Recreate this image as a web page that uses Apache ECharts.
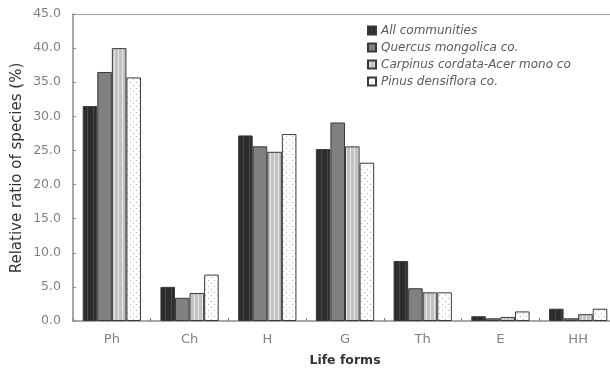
<!DOCTYPE html>
<html>
<head>
<meta charset="utf-8">
<script src="https://cdn.jsdelivr.net/npm/echarts@6/dist/echarts.min.js"></script>
<style>
  html, body { margin: 0; padding: 0; background: #fff; overflow: hidden; }
  #chart { width: 617px; height: 374px; }
</style>
</head>
<body>
<div id="chart"></div>
<script>
// Life-form spectrum of the forest communities (% of species)
const lifeForms = ['Ph', 'Ch', 'H', 'G', 'Th', 'E', 'HH'];
const seriesNames = [
  'All communities',
  'Quercus mongolica co.',
  'Carpinus cordata-Acer mono co',
  'Pinus densiflora co.'
];
const allCommunities = [31.5, 5.0, 27.2, 25.2, 8.8, 0.7, 1.8];
const quercusMongolica = [36.5, 3.4, 25.6, 29.1, 4.8, 0.4, 0.4];
const carpinusAcer = [40.0, 4.1, 24.8, 25.6, 4.2, 0.6, 1.0];
const pinusDensiflora = [35.7, 6.8, 27.4, 23.2, 4.2, 1.4, 1.8];
const yTicks = ['0.0', '5.0', '10.0', '15.0', '20.0', '25.0', '30.0', '35.0', '40.0', '45.0'];

const FONT = 'DejaVu Sans, Verdana, sans-serif';

// small repeating fill textures
function texture(w, h, bg, paint) {
  const c = document.createElement('canvas');
  c.width = w; c.height = h;
  const g = c.getContext('2d');
  g.fillStyle = bg;
  g.fillRect(0, 0, w, h);
  paint(g);
  return { image: c, repeat: 'repeat' };
}
const fills = [
  texture(6, 6, '#2c2c2c', g => { g.fillStyle = '#4a4a4a'; g.fillRect(3, 0, 1, 6); }),
  '#808080',
  texture(4, 4, '#c2c2c2', g => { g.fillStyle = '#e6e6e6'; g.fillRect(2, 0, 1, 4); }),
  texture(6, 6, '#ffffff', g => { g.fillStyle = '#b4b4b4'; g.fillRect(1, 1, 1, 1); g.fillRect(4, 4, 1, 1); })
];
const values = [allCommunities, quercusMongolica, carpinusAcer, pinusDensiflora];

const chart = echarts.init(document.getElementById('chart'), null, { renderer: 'canvas' });

const series = values.map((data, i) => ({
  name: seriesNames[i],
  type: 'bar',
  data: data,
  barGap: '0%',
  barCategoryGap: '25%',
  itemStyle: { color: fills[i], borderColor: '#3a3a3a', borderWidth: 1 },
  emphasis: { disabled: true }
}));

chart.setOption({
  animation: false,
  textStyle: { fontFamily: FONT },
  grid: { left: 73, top: 14, right: 0, bottom: 53 },
  legend: {
    orient: 'vertical',
    left: 362, top: 19,
    itemWidth: 8, itemHeight: 8, itemGap: 4,
    icon: 'rect',
    data: seriesNames,
    textStyle: { fontFamily: FONT, fontSize: 12, lineHeight: 13, fontStyle: 'italic', color: '#5a5a5a' }
  },
  graphic: [{
    type: 'text',
    x: 17, y: 168,
    rotation: Math.PI / 2,
    style: {
      text: 'Relative ratio of species (%)',
      font: '15px ' + FONT,
      fill: '#333',
      align: 'center',
      verticalAlign: 'middle'
    }
  }],
  xAxis: [
    {
      type: 'category',
      data: lifeForms,
      name: 'Life forms',
      nameLocation: 'middle',
      nameGap: 33,
      nameTextStyle: { fontFamily: FONT, fontSize: 12.5, color: '#333', fontWeight: 'bold' },
      axisLine: { lineStyle: { color: '#8a8a8a', width: 1.5 } },
      axisTick: { show: true, inside: true, length: 3, lineStyle: { color: '#777' } },
      axisLabel: { fontFamily: FONT, fontSize: 13, color: '#808080', margin: 12 }
    },
    {
      // frame line along the top of the plot
      type: 'category',
      position: 'top',
      data: lifeForms,
      axisLine: { show: true, lineStyle: { color: '#a0a0a0', width: 1.2 } },
      axisTick: { show: false },
      axisLabel: { show: false }
    }
  ],
  yAxis: {
    type: 'value',
    min: 0, max: 45, interval: 5,
    axisLine: { show: true, lineStyle: { color: '#8a8a8a', width: 1.5 } },
    axisTick: { show: true, inside: true, length: 3, lineStyle: { color: '#888' } },
    splitLine: { show: false },
    axisLabel: {
      fontFamily: FONT, fontSize: 12.5, color: '#808080', margin: 12,
      formatter: (v) => yTicks[Math.round(v / 5)]
    }
  },
  series: series
});
</script>
</body>
</html>
